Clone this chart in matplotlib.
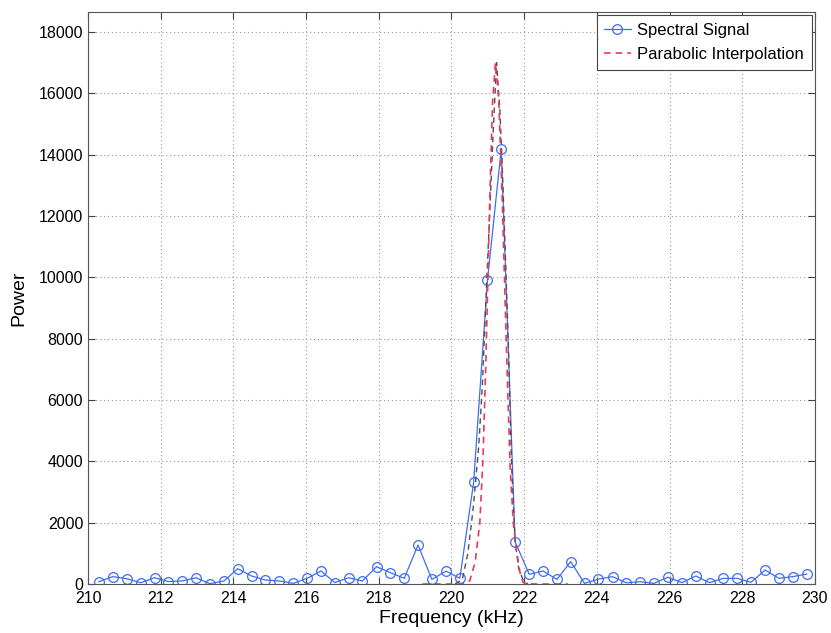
import numpy as np
import matplotlib
matplotlib.use("Agg")
import matplotlib.pyplot as plt

plt.rcParams['font.family'] = ['Liberation Sans', 'DejaVu Sans']

# spectral bins (kHz) and measured power
freq_khz = [210.30, 210.68, 211.06, 211.45, 211.83, 212.21, 212.59, 212.97, 213.35, 213.74,
            214.12, 214.50, 214.88, 215.26, 215.65, 216.03, 216.41, 216.79, 217.17, 217.55,
            217.94, 218.32, 218.70, 219.08, 219.46, 219.85, 220.23, 220.61, 220.99, 221.37,
            221.75, 222.14, 222.52, 222.90, 223.28, 223.66, 224.04, 224.43, 224.81, 225.19,
            225.57, 225.95, 226.34, 226.72, 227.10, 227.48, 227.86, 228.24, 228.63, 229.01,
            229.39, 229.77]
power = [75, 240, 175, 40, 205, 80, 100, 204, 10, 100,
         500, 260, 130, 100, 20, 185, 425, 45, 205, 100,
         565, 370, 185, 1270, 150, 420, 185, 3315, 9900, 14200,
         1380, 315, 425, 150, 730, 20, 160, 240, 40, 75,
         20, 220, 45, 260, 45, 185, 185, 55, 455, 185,
         240, 325]

# interpolated peak curve
interp_freq = [219.20, 220.30, 220.50, 220.65, 220.78, 220.87, 220.95, 221.05, 221.13, 221.21,
               221.30, 221.40, 221.50, 221.61, 221.70, 221.79, 221.88, 221.97, 222.10, 223.20]
interp_power = [0, 0, 100, 700, 2000, 4200, 7400, 12400, 15700, 17000,
                15800, 12400, 8200, 3900, 2000, 1100, 400, 50, 0, 0]

# wider reference curve through the same peak
ref_freq = [220.10, 220.30, 220.45, 220.60, 220.75, 220.85, 220.97, 221.06, 221.15, 221.24,
            221.33, 221.40, 221.48, 221.56, 221.65, 221.75, 221.85, 221.98, 222.10]
ref_power = [0, 150, 1000, 2500, 4500, 6500, 9900, 12300, 14800, 17000,
             15500, 13500, 10800, 8000, 4000, 1400, 500, 100, 0]

fig = plt.figure(figsize=(8.31, 6.33), dpi=100)
ax = fig.add_axes([0.1059, 0.0774, 0.8748, 0.9036])

ax.plot(freq_khz, power, color='#3d6df2', lw=0.9, marker='o', ms=7,
        mfc='none', mec='#3d6df2', mew=0.9, label='Spectral Signal')
ax.plot(ref_freq, ref_power, color='#505050', lw=1.0, ls=(0, (4, 3)))
ax.plot(interp_freq, interp_power, color='#ea3a5c', lw=1.2, ls=(0, (4, 3)),
        label='Parabolic Interpolation')

ax.set_xlim(210, 230)
ax.set_ylim(0, 18650)
ax.set_xticks(np.arange(210, 231, 2))
ax.set_yticks(np.arange(0, 18001, 2000))
ax.tick_params(direction='in', top=True, right=True, labelsize=11.5, length=5,
               color='#444444')
ax.tick_params(axis='x', pad=5)
ax.grid(True, ls=(0, (1, 2.5)), color='#999999', lw=0.8)
for s in ax.spines.values():
    s.set_color('#555555')

ax.set_xlabel('Frequency (kHz)', fontsize=14, labelpad=3)
ax.set_ylabel('Power', fontsize=14, labelpad=8)

leg = ax.legend(loc='upper right', fontsize=12, fancybox=False, framealpha=1,
                edgecolor='#444444', borderaxespad=0.2, handlelength=1.6,
                borderpad=0.45, labelspacing=0.55, handletextpad=0.4)
leg.get_frame().set_linewidth(0.8)

fig.savefig('out.png', dpi=100)
